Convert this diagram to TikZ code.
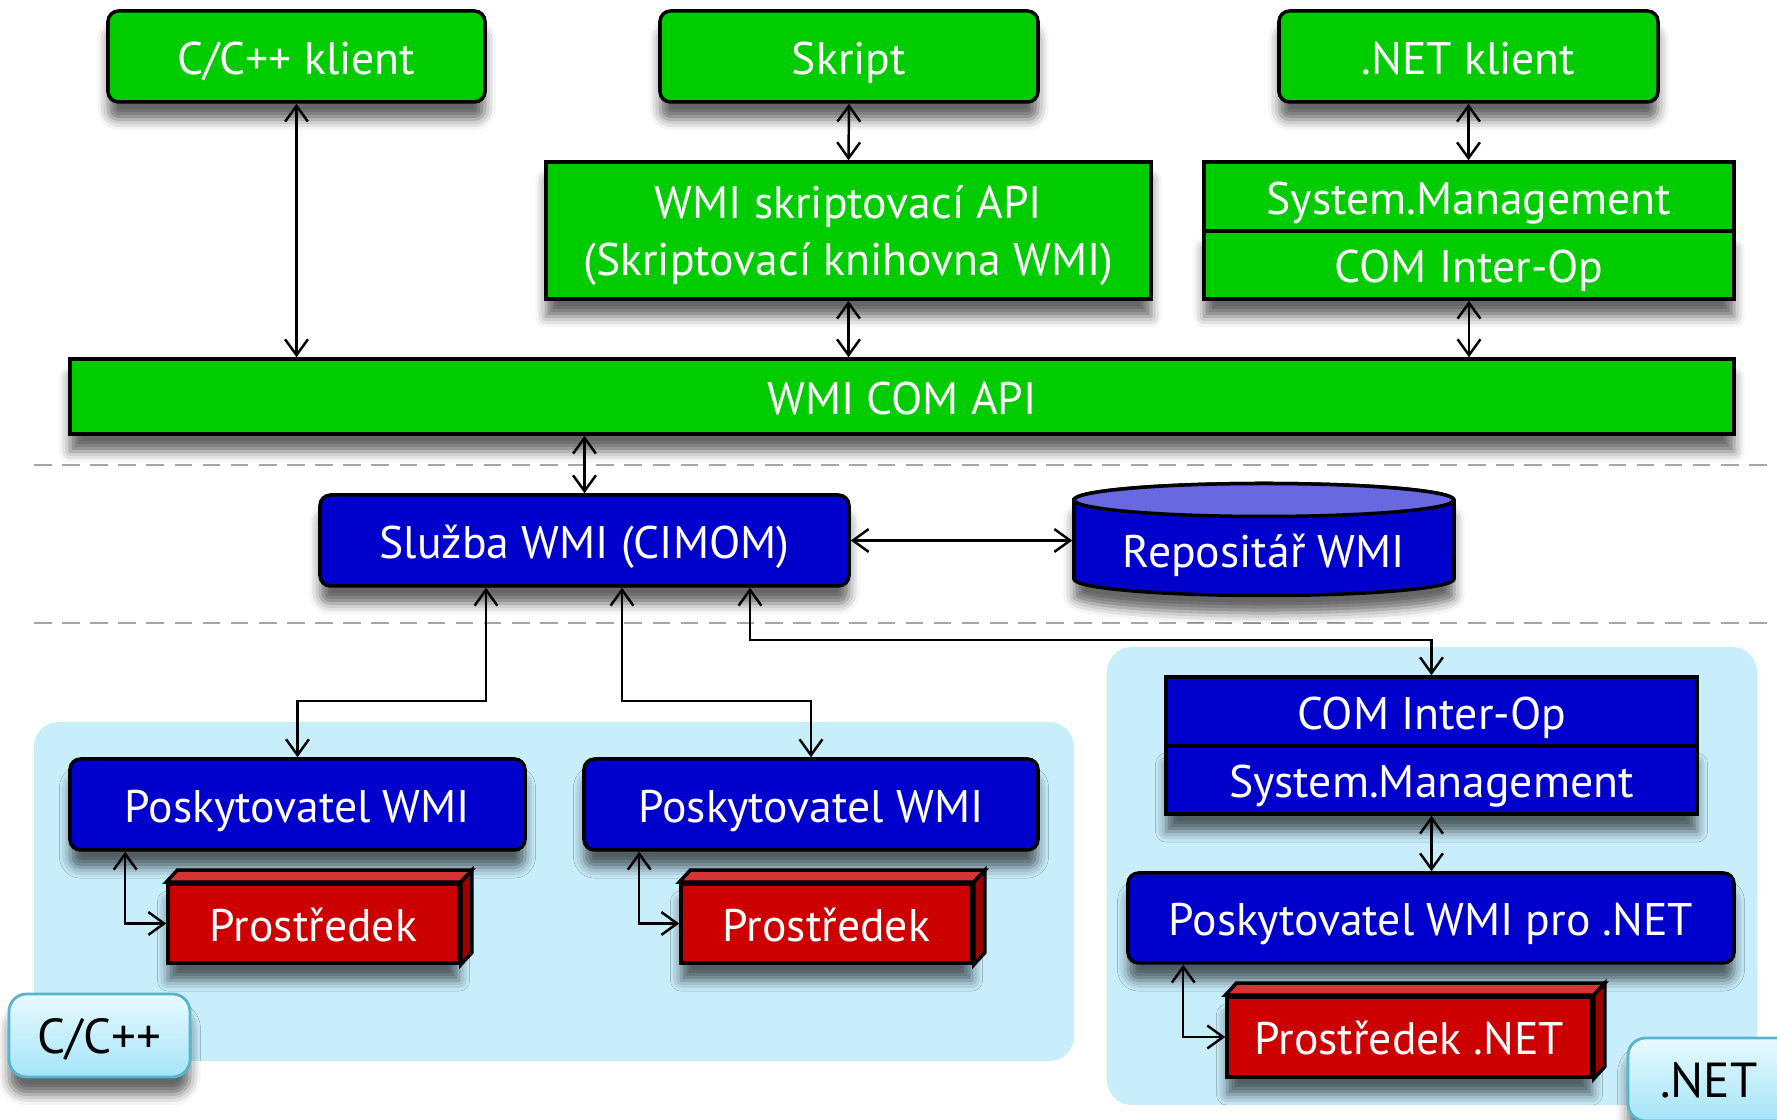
\documentclass[tikz,border=0pt]{standalone}
\usepackage{fontspec}
\setmainfont{PT Sans}
\usetikzlibrary{calc,arrows.meta,shadows.blur}
\definecolor{wgreen}{RGB}{0,204,0}
\definecolor{wblue}{RGB}{0,0,204}
\definecolor{wbluetop}{RGB}{104,104,224}
\definecolor{wred}{RGB}{204,0,0}
\definecolor{wredtop}{RGB}{214,52,52}
\definecolor{wredside}{RGB}{158,0,0}
\definecolor{zone}{RGB}{200,238,252}
\definecolor{tagtop}{RGB}{232,250,254}
\definecolor{tagbottom}{RGB}{164,228,248}
\definecolor{tagline}{RGB}{88,180,206}
\def\boxfaces(#1){%
  \draw[line width=1pt, fill=wredtop] (#1.north west) -- ++(0.11,0.12) -- ($(#1.north east)+(0.11,0.12)$) -- (#1.north east) -- cycle;
  \draw[line width=1pt, fill=wredside] (#1.north east) -- ++(0.11,0.12) -- ($(#1.south east)+(0.11,0.12)$) -- (#1.south east) -- cycle;}
\tikzset{
  shade box/.style={blur shadow={shadow xshift=0pt, shadow yshift=-5pt, shadow blur radius=3pt, shadow opacity=60}},
  box/.style={draw=black, line width=1pt, text=white, inner sep=0pt, align=center, font=\fontsize{13}{16}\selectfont},
  oneline/.style={text height=10.6pt, text depth=0.4pt},
  greenbox/.style={box, fill=wgreen},
  bluebox/.style={box, oneline, fill=wblue},
  redbox/.style={box, oneline, fill=wred},
  round/.style={rounded corners=3pt},
  tag/.style={draw=tagline, line width=0.8pt, rounded corners=5pt, top color=tagtop, bottom color=tagbottom, minimum width=1.81cm, minimum height=0.83cm, inner sep=0pt, oneline, font=\fontsize{14}{16}\selectfont, shade box},
  conn/.style={line width=0.7pt, {Straight Barb[length=4.5pt,width=6.5pt]}-{Straight Barb[length=4.5pt,width=6.5pt]}}
}

\begin{document}
\begin{tikzpicture}
			%%%%% START %%%%%
			\useasboundingbox (0, 0) rectangle (17.77, 11.2);
			
			\fill[zone, rounded corners=7pt] (0.34, 0.59) rectangle (10.74, 3.98);
			\fill[zone, rounded corners=7pt] (11.07, 0.15) rectangle (17.57, 4.73);
			
			\draw[black!35, line width=0.5pt, dash pattern=on 5pt off 3pt] (0.34, 6.55) -- (17.70, 6.55);
			\draw[black!35, line width=0.5pt, dash pattern=on 5pt off 3pt] (0.34, 4.97) -- (17.70, 4.97);
			
			\node[greenbox, oneline, round, shade box, minimum width=3.77cm, minimum height=0.91cm] (cli) at (2.965, 10.635) {C/C++ klient};
			\node[greenbox, oneline, round, shade box, minimum width=3.78cm, minimum height=0.91cm] (skr) at (8.49, 10.635) {Skript};
			\node[greenbox, oneline, round, shade box, minimum width=3.79cm, minimum height=0.91cm] (net) at (14.685, 10.635) {.NET klient};
			
			\node[greenbox, text depth=-0.6pt, shade box, minimum width=6.05cm, minimum height=1.37cm] (api) at (8.485, 8.895) {WMI skriptovací API\\(Skriptovací knihovna WMI)};
			\node[greenbox, oneline, minimum width=5.30cm, minimum height=0.69cm] (sysm) at (14.69, 9.235) {System.Management};
			\node[greenbox, oneline, shade box, minimum width=5.30cm, minimum height=0.68cm] (cominter) at (14.69, 8.55) {COM Inter-Op};
			
			\node[greenbox, oneline, shade box, minimum width=16.64cm, minimum height=0.75cm] (com) at (9.02, 7.235) {WMI COM API};
			
			\node[bluebox, round, shade box, minimum width=5.29cm, minimum height=0.91cm] (svc) at (5.845, 5.795) {Služba WMI (CIMOM)};
			
			\draw[line width=1pt, fill=wblue, shade box] (10.74, 6.20) -- (10.74, 5.41) arc[start angle=180, end angle=360, x radius=1.9, y radius=0.165] -- (14.54, 6.20) arc[start angle=0, end angle=180, x radius=1.9, y radius=0.165] -- cycle;
			\draw[line width=1pt, fill=wbluetop] (12.64, 6.20) ellipse [x radius=1.9, y radius=0.165];
			\node[box, oneline, draw=none, minimum width=3.80cm, minimum height=0.95cm] (rep) at (12.64, 5.70) {Repositář WMI};
			
			\node[bluebox, round, shade box, minimum width=4.55cm, minimum height=0.91cm] (pl) at (2.975, 3.155) {Poskytovatel WMI};
			\node[bluebox, round, shade box, minimum width=4.54cm, minimum height=0.91cm] (pr) at (8.11, 3.155) {Poskytovatel WMI};
			\node[redbox, shade box, minimum width=2.91cm, minimum height=0.79cm] (resl) at (3.135, 1.965) {Prostředek};
			\boxfaces(resl)
			\node[redbox, shade box, minimum width=2.91cm, minimum height=0.79cm] (resr) at (8.265, 1.965) {Prostředek};
			\boxfaces(resr)
			
			\node[bluebox, minimum width=5.31cm, minimum height=0.69cm] (cim) at (14.315, 4.085) {COM Inter-Op};
			\node[bluebox, shade box, minimum width=5.31cm, minimum height=0.68cm] (sysb) at (14.315, 3.40) {System.Management};
			\node[bluebox, round, shade box, minimum width=6.06cm, minimum height=0.90cm] (pnet) at (14.31, 2.02) {Poskytovatel WMI pro .NET};
			\node[redbox, shade box, minimum width=3.65cm, minimum height=0.80cm] (resnet) at (14.095, 0.83) {Prostředek .NET};
			\boxfaces(resnet)
			
			\node[tag] (cpp) at (0.995, 0.845) {C/C++};
			\node[tag, text width=1.17cm, inner xsep=0.32cm, align=left] (netl) at (17.185, 0.405) {.NET};
			
			\draw[conn] (cli.south) -- (cli.south |- com.north);
			\draw[conn] (skr.south) -- (api.north);
			\draw[conn] (api.south) -- (api.south |- com.north);
			\draw[conn] (net.south) -- (net.south |- sysm.north);
			\draw[conn] (cominter.south) -- (cominter.south |- com.north);
			\draw[conn] (com.south -| svc.north) -- (svc.north);
			\draw[conn] (svc.east) -- (svc.east -| rep.west);
			
			\draw[conn] ($(svc.south)+(-0.985,0)$) -- ++(0,-1.13) -| (pl.north);
			\draw[conn] ($(svc.south)+(0.375,0)$) -- ++(0,-1.13) -| (pr.north);
			\draw[conn] ($(svc.south)+(1.655,0)$) -- ++(0,-0.52) -| (cim.north);
			\draw[conn] (sysb.south) -- (sysb.south |- pnet.north);
			
			\draw[conn] ($(pl.south west)+(0.57,0)$) |- (resl.west);
			\draw[conn] ($(pr.south west)+(0.57,0)$) |- (resr.west);
			\draw[conn] ($(pnet.south west)+(0.57,0)$) |- (resnet.west);
			
			%%%%% END %%%%%
\end{tikzpicture}
\end{document}
